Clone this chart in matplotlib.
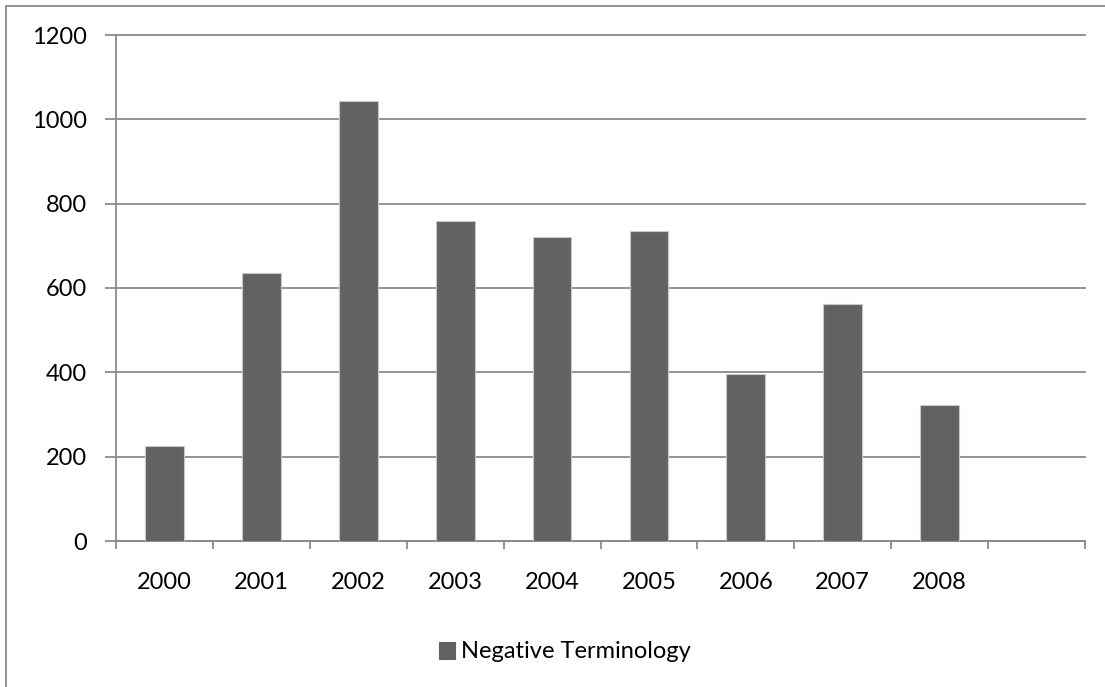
import matplotlib.pyplot as plt
from matplotlib.patches import Rectangle

years = ["2000", "2001", "2002", "2003", "2004", "2005", "2006", "2007", "2008", ""]
counts = [226, 635, 1043, 758, 722, 735, 397, 562, 322, None]
series_name = "Negative Terminology"

plt.rcParams["font.family"] = ["Lato", "DejaVu Sans"]

W, H = 1105, 687
fig = plt.figure(figsize=(W / 100, H / 100), dpi=100)

# chart area border (runs off the right and bottom edges)
fig.patches.append(Rectangle((6 / W, -0.1), 1.2, 1.1 - 6 / H,
                             transform=fig.transFigure, fill=False,
                             edgecolor="#8c8c8c", linewidth=1.3))

ax = fig.add_axes([116 / W, 1 - 541 / H, 969 / W, 506 / H])

xs = list(range(len(years)))
heights = [c if c is not None else 0 for c in counts]
bars = ax.bar(xs, heights, width=0.4, color="#626262",
              edgecolor="#c8c8c8", linewidth=0.8, zorder=3,
              label=series_name)

ax.set_xlim(-0.5, len(years) - 0.5)
ax.set_ylim(0, 1200)
ax.set_yticks(range(0, 1201, 200))
ax.set_xticks(xs)
ax.set_xticklabels(years)
ax.set_xticks([x - 0.5 for x in range(len(years) + 1)], minor=True)

grid_color = "#8a8a8a"
ax.grid(axis="y", color=grid_color, linewidth=1.3, zorder=0)
for gl in ax.get_ygridlines():
    gl.set_clip_on(False)

for side in ["top", "right"]:
    ax.spines[side].set_visible(False)
for side in ["left", "bottom"]:
    ax.spines[side].set_color(grid_color)
    ax.spines[side].set_linewidth(1.3)

ax.tick_params(axis="x", which="major", length=0, pad=22, labelsize=17)
ax.tick_params(axis="x", which="minor", length=6, width=1.3,
               color=grid_color, direction="out")
ax.tick_params(axis="y", which="major", length=8, width=1.3,
               color=grid_color, pad=13, labelsize=17)

leg = ax.legend(loc="center", bbox_to_anchor=(565 / W, 1 - 652 / H),
                bbox_transform=fig.transFigure, frameon=False,
                fontsize=17, handlelength=0.7, handleheight=0.7,
                handletextpad=0.25)
for h in leg.legend_handles:
    h.set_edgecolor("#626262")

fig.savefig("out.png", dpi=100, facecolor="white")
